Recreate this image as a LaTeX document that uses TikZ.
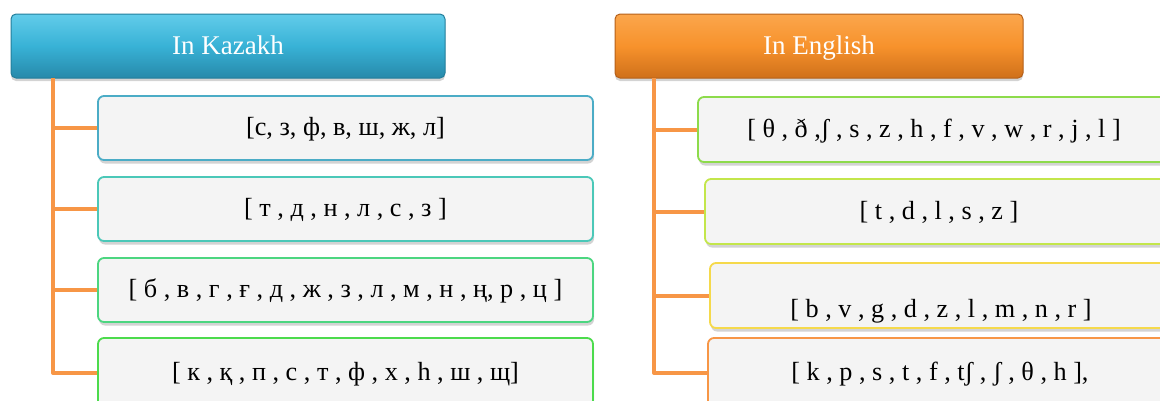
\documentclass[tikz,border=0pt]{standalone}
\usepackage{fontspec}
\setmainfont{Liberation Serif}
\usetikzlibrary{shadows}
\definecolor{cyanTop}{HTML}{62CCEA}
\definecolor{cyanMid}{HTML}{38B2D6}
\definecolor{cyanBot}{HTML}{2789AA}
\definecolor{cyanEdge}{HTML}{237E9B}
\definecolor{orTop}{HTML}{FBA64C}
\definecolor{orMid}{HTML}{F7922C}
\definecolor{orBot}{HTML}{CF701A}
\definecolor{orEdge}{HTML}{B5601A}
\definecolor{connC}{HTML}{F79646}
\definecolor{boxFill}{HTML}{F4F4F4}
\definecolor{bL1}{HTML}{4BACC6}
\definecolor{bL2}{HTML}{4BC8B8}
\definecolor{bL3}{HTML}{4CD680}
\definecolor{bL4}{HTML}{4CDB4C}
\definecolor{bR1}{HTML}{8DDB4B}
\definecolor{bR2}{HTML}{C3E64B}
\definecolor{bR3}{HTML}{F5D94B}
\definecolor{bR4}{HTML}{F79646}
\tikzset{
  header/.style={rounded corners=5pt, minimum height=64pt, inner sep=0pt,
    text height=23pt, text depth=6pt,
    text=white, font=\fontsize{27}{31}\selectfont,
    drop shadow={shadow xshift=0pt, shadow yshift=-3pt, opacity=0.35}},
  kzhead/.style={header, top color=cyanTop, bottom color=cyanBot, middle color=cyanMid, draw=cyanEdge, line width=1pt},
  enhead/.style={header, top color=orTop, bottom color=orBot, middle color=orMid, draw=orEdge, line width=1pt},
  itembox/.style={rounded corners=6pt, fill=boxFill, line width=1.8pt, inner sep=0pt,
    text height=21.5pt, text depth=6pt,
    font=\fontsize{26.2}{30}\selectfont, text=black,
    drop shadow={shadow xshift=1pt, shadow yshift=-3.5pt, opacity=0.35}},
  conn/.style={draw=connC, line width=4pt, line join=round}
}
\begin{document}
\begin{tikzpicture}[x=1pt,y=-1pt]
\useasboundingbox (0,0) rectangle (1160,400);
% headers
\node[kzhead, minimum width=434pt] (LH) at (228,46) {In Kazakh};
\node[enhead, minimum width=408pt] (RH) at (819,46) {In English};
% left boxes
\node[itembox, draw=bL1, minimum width=495pt, minimum height=64pt] (L1) at (345.5,128) {[с, з, ф, в, ш, ж, л]};
\node[itembox, draw=bL2, minimum width=495pt, minimum height=64pt] (L2) at (345.5,209) {[ т , д , н , л , с , з ]};
\node[itembox, draw=bL3, minimum width=495pt, minimum height=64pt] (L3) at (345.5,290) {[ б , в , г , ғ , д , ж , з , л , м , н , ң, р , ц ]};
\node[itembox, draw=bL4, minimum width=495pt, minimum height=70pt] (L4) at (345.5,373) {[ к , қ , п , с , т , ф , х , һ , ш , щ]};
% right boxes
\node[itembox, draw=bR1, minimum width=472pt, minimum height=65pt] (R1) at (934,129.5) {[ θ , ð ,ʃ , s , z , h , f , v , w , r , j , l ]};
\node[itembox, draw=bR2, minimum width=468pt, minimum height=65pt] (R2) at (939,211.5) {[ t , d , l , s , z ]};
\node[itembox, draw=bR3, minimum width=462pt, minimum height=65pt] (R3) at (941,295.5) {\raisebox{-14pt}[21.5pt][6pt]{[ b , v , g , d , z , l , m , n , r ]}};
\node[itembox, draw=bR4, minimum width=464pt, minimum height=70pt] (R4) at (940,373) {[ k , p , s , t , f , tʃ , ʃ , θ , h ],};
% connectors
\coordinate (Ltop) at (53,78);
\coordinate (Rtop) at (654,78);
\draw[conn] (Ltop) |- (L1.west);
\draw[conn] (Ltop) |- (L2.west);
\draw[conn] (Ltop) |- (L3.west);
\draw[conn] (Ltop) |- (L4.west);
\draw[conn] (Rtop) |- (R1.west);
\draw[conn] (Rtop) |- (R2.west);
\draw[conn] (Rtop) |- (R3.west);
\draw[conn] (Rtop) |- (R4.west);
\end{tikzpicture}
\end{document}
